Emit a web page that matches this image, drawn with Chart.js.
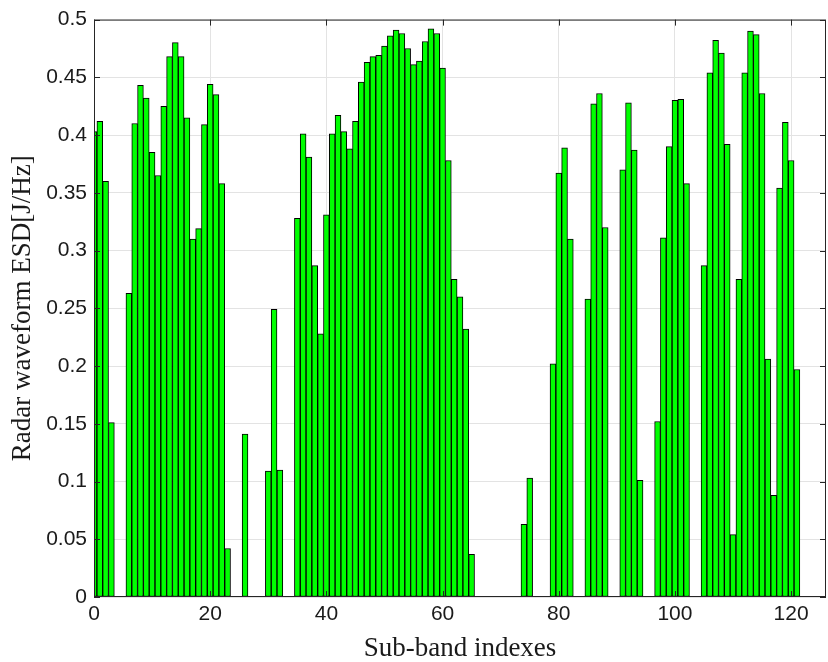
<!DOCTYPE html>
<html>
<head>
<meta charset="utf-8">
<script src="https://cdn.jsdelivr.net/npm/chart.js@4"></script>
<style>
  html, body { margin: 0; padding: 0; background: #fff; }
  #wrap { width: 828px; height: 662px; }
</style>
</head>
<body>
<div id="wrap"><canvas id="chart"></canvas></div>
<script>
// ESD per sub-band, index 0..121 (null = band not used)
const esdValues = [
  0.403, 0.412, 0.360, 0.151, null, null, 0.263, 0.410, 0.443, 0.432,
  0.385, 0.365, 0.425, 0.468, 0.480, 0.468, 0.415, 0.310, 0.319, 0.409,
  0.444, 0.435, 0.358, 0.042, null, null, 0.141, null, null, null,
  0.109, 0.249, 0.110, null, null, 0.328, 0.401, 0.381, 0.287, 0.228,
  0.331, 0.401, 0.417, 0.403, 0.388, 0.412, 0.446, 0.463, 0.468, 0.469,
  0.477, 0.486, 0.491, 0.488, 0.475, 0.461, 0.464, 0.481, 0.492, 0.488,
  0.458, 0.378, 0.275, 0.260, 0.232, 0.037, null, null, null, null,
  null, null, null, null, 0.063, 0.103, null, null, null, 0.202,
  0.367, 0.389, 0.310, null, null, 0.258, 0.427, 0.436, 0.320, null,
  null, 0.370, 0.428, 0.387, 0.101, null, null, 0.152, 0.311, 0.390,
  0.430, 0.431, 0.358, null, null, 0.287, 0.454, 0.482, 0.471, 0.392,
  0.054, 0.275, 0.454, 0.490, 0.487, 0.436, 0.206, 0.088, 0.354, 0.411,
  0.378, 0.197
];
const xTicks = [0, 20, 40, 60, 80, 100, 120];
const yTicks = [0, 0.05, 0.1, 0.15, 0.2, 0.25, 0.3, 0.35, 0.4, 0.45, 0.5];

const axisColor = '#262626';

// box around the axes and MATLAB style inward tick marks
const boxPlugin = {
  id: 'box',
  afterDraw(chart) {
    const { ctx, chartArea: a, scales } = chart;
    ctx.save();
    ctx.strokeStyle = axisColor;
    ctx.lineWidth = 1;
    ctx.strokeRect(a.left + 0.5, a.top + 0.5, a.right - a.left - 1, a.bottom - a.top - 1);
    ctx.beginPath();
    xTicks.forEach(t => {
      const x = Math.round(scales.x.getPixelForValue(t)) + 0.5;
      ctx.moveTo(x, a.bottom); ctx.lineTo(x, a.bottom - 6);
      ctx.moveTo(x, a.top); ctx.lineTo(x, a.top + 6);
    });
    yTicks.forEach(t => {
      const y = Math.round(scales.y.getPixelForValue(t)) + 0.5;
      ctx.moveTo(a.left, y); ctx.lineTo(a.left + 6, y);
      ctx.moveTo(a.right, y); ctx.lineTo(a.right - 6, y);
    });
    ctx.stroke();
    ctx.restore();
  }
};

const ctxEl = document.getElementById('chart');
new Chart(ctxEl, {
  type: 'bar',
  data: {
    datasets: [{
      data: esdValues.map((v, i) => ({ x: i, y: v })),
      backgroundColor: '#00ff00',
      borderColor: '#000000',
      borderWidth: 1,
      borderSkipped: false,
      barPercentage: 1,
      categoryPercentage: 1,
    }]
  },
  options: {
    responsive: true,
    maintainAspectRatio: false,
    animation: false,
    layout: { padding: { top: 14, right: 2, left: 0, bottom: 0 } },
    plugins: { legend: { display: false }, tooltip: { enabled: false } },
    scales: {
      x: {
        type: 'linear',
        min: 0,
        max: 126,
        offset: false,
        afterBuildTicks: s => { s.ticks = xTicks.map(v => ({ value: v })); },
        afterFit: s => { s.height = 65; },
        grid: { color: '#e3e3e3', drawTicks: false, offset: false },
        border: { display: false },
        ticks: { color: '#1a1a1a', padding: 5, font: { family: 'Liberation Sans, Arial', size: 21 } },
        title: {
          display: true,
          text: 'Sub-band indexes',
          color: '#1a1a1a',
          padding: { top: 0, bottom: -3 },
          font: { family: 'Liberation Serif, Times New Roman', size: 27 }
        }
      },
      y: {
        min: 0,
        max: 0.5,
        afterBuildTicks: s => { s.ticks = yTicks.map(v => ({ value: v })); },
        afterFit: s => { s.width = 94; },
        grid: { color: '#e3e3e3', drawTicks: false },
        border: { display: false },
        ticks: {
          color: '#1a1a1a',
          padding: 7,
          font: { family: 'Liberation Sans, Arial', size: 21 },
          callback: v => String(Math.round(v * 100) / 100)
        },
        title: {
          display: true,
          text: 'Radar waveform ESD[J/Hz]',
          color: '#1a1a1a',
          padding: { top: 7, bottom: 0 },
          font: { family: 'Liberation Serif, Times New Roman', size: 27 }
        }
      }
    }
  },
  plugins: [boxPlugin]
});
</script>
</body>
</html>
